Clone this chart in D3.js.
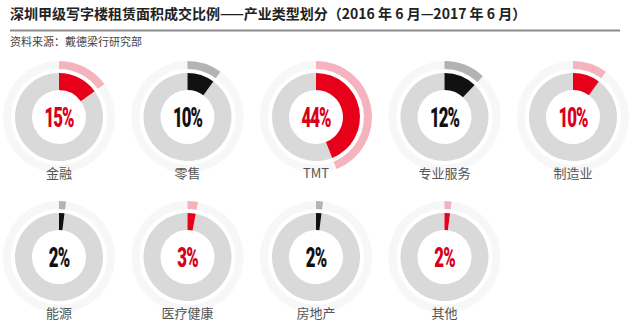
<!DOCTYPE html>
<html>
<head>
<meta charset="utf-8">
<script src="https://cdn.jsdelivr.net/npm/d3@7"></script>
<style>
  html, body { margin: 0; padding: 0; background: #fff; }
  svg { display: block; }
</style>
</head>
<body>
<svg id="chart" width="638" height="328"></svg>
<script>
// 产业类型及租赁面积占比（%）
const categories = ["金融", "零售", "TMT", "专业服务", "制造业", "能源", "医疗健康", "房地产", "其他"];
const shares = [15, 10, 44, 12, 10, 2, 3, 2, 2];
const tones = ["red", "black", "red", "black", "red", "black", "red", "black", "red"];

const title = "深圳甲级写字楼租赁面积成交比例——产业类型划分（2016 年 6 月—2017 年 6 月）";
const source = "资料来源：戴德梁行研究部";

const palette = {
  red:   { arc: "#e60019", halo: "#f5b3be", text: "#d9001b" },
  black: { arc: "#111111", halo: "#b3b3b3", text: "#111111" }
};

const svg = d3.select("#chart");
const cjk = "'Noto Sans CJK SC', 'Noto Sans', sans-serif";

// 标题与来源
svg.append("text")
  .attr("x", 10).attr("y", 19)
  .attr("font-family", cjk)
  .attr("font-weight", 700)
  .attr("font-size", 14)
  .attr("fill", "#222")
  .text(title);

svg.append("line")
  .attr("x1", 10).attr("x2", 620)
  .attr("y1", 30.5).attr("y2", 30.5)
  .attr("stroke", "#8c8c8c").attr("stroke-width", 2);

svg.append("text")
  .attr("x", 10).attr("y", 46)
  .attr("font-family", cjk)
  .attr("font-size", 11)
  .attr("fill", "#444")
  .text(source);

// 网格：每行五个圆环
const perRow = 5;
const xScale = d3.scalePoint().domain(d3.range(perRow)).range([59, 573]);
const yScale = d3.scalePoint().domain([0, 1]).range([117, 257]);

const pie = d3.pie().sort(null).value(d => d);
const innerArc = d3.arc().innerRadius(27).outerRadius(44);
const outerArc = d3.arc().innerRadius(48).outerRadius(56);

const cells = svg.selectAll("g.cell")
  .data(categories.map((name, i) => ({ name, share: shares[i], tone: tones[i], i })))
  .join("g")
  .attr("class", "cell")
  .attr("transform", d => `translate(${xScale(d.i % perRow)},${yScale(Math.floor(d.i / perRow))})`);

cells.each(function (d) {
  const g = d3.select(this);
  const slices = pie([d.share, 100 - d.share]);
  const col = palette[d.tone];

  // 外圈：浅底 + 占比弧段
  g.append("path")
    .attr("d", outerArc({ startAngle: 0, endAngle: 2 * Math.PI }))
    .attr("fill", "#f7f7f7");
  g.append("path")
    .attr("d", outerArc(slices[0]))
    .attr("fill", col.halo);

  // 内圈：灰色底环 + 占比弧段
  g.append("path")
    .attr("d", innerArc(slices[1]))
    .attr("fill", "#d9d9d9");
  g.append("path")
    .attr("d", innerArc(slices[0]))
    .attr("fill", col.arc);

  // 中心百分比
  g.append("text")
    .attr("transform", "translate(0,10) scale(0.6,1)")
    .attr("text-anchor", "middle")
    .attr("font-family", "Roboto, 'DejaVu Sans', sans-serif")
    .attr("font-weight", 900)
    .attr("font-size", 28)
    .attr("letter-spacing", -1.5)
    .attr("fill", col.text)
    .text(d.share + "%");

  // 行业名称
  g.append("text")
    .attr("y", 61)
    .attr("text-anchor", "middle")
    .attr("font-family", cjk)
    .attr("font-size", 13)
    .attr("fill", "#555")
    .text(d.name);
});
</script>
</body>
</html>
